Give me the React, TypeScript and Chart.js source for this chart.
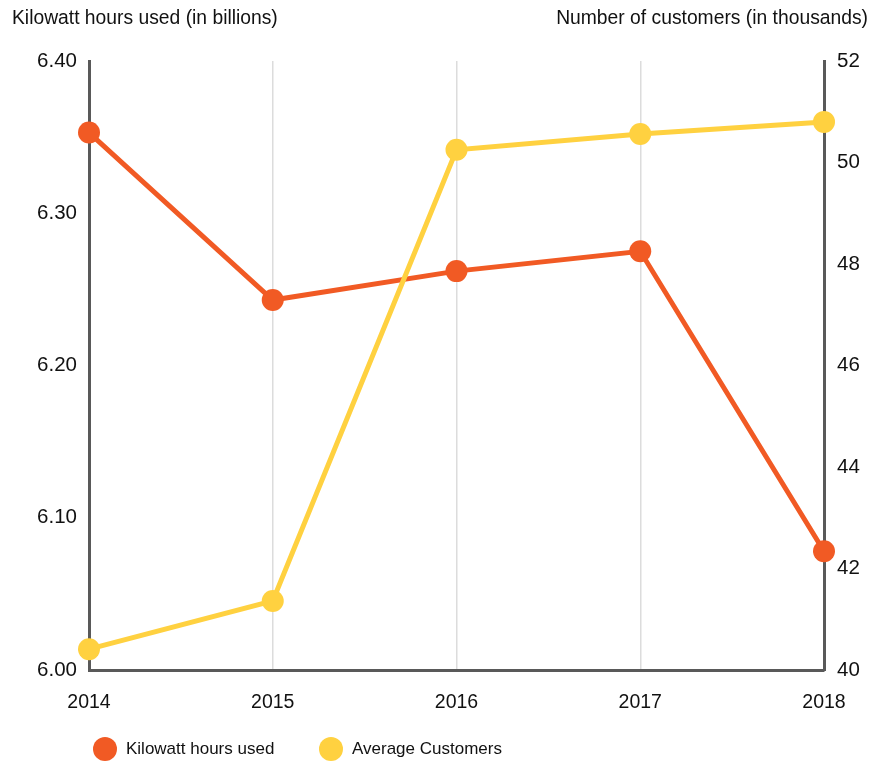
import React, { useEffect, useRef } from "react";
import { Chart, registerables } from "chart.js";

Chart.register(...registerables);

const years = ["2014", "2015", "2016", "2017", "2018"];
const kilowattHours = [6.353, 6.243, 6.262, 6.275, 6.078];
const avgCustomers = [40.41, 41.36, 50.25, 50.56, 50.8];
const leftTicks = [6.0, 6.1, 6.2, 6.3, 6.4];
const rightTicks = [40, 42, 44, 46, 48, 50, 52];

const ORANGE = "#F15A24";
const YELLOW = "#FFD140";
const AXIS = "#595959";
const GRID = "#dcdcdc";
const FONT = "'Liberation Sans', Arial, sans-serif";

export default function App() {
  const ref = useRef<HTMLCanvasElement | null>(null);

  useEffect(() => {
    if (!ref.current) return;
    const chart = new Chart(ref.current, {
      type: "line",
      data: {
        labels: years,
        datasets: [
          {
            label: "Kilowatt hours used",
            data: kilowattHours,
            borderColor: ORANGE,
            backgroundColor: ORANGE,
            pointBackgroundColor: ORANGE,
            pointBorderColor: ORANGE,
            borderWidth: 5,
            pointRadius: 11,
            pointBorderWidth: 0,
            yAxisID: "y",
            order: 1,
            tension: 0,
          },
          {
            label: "Average Customers",
            data: avgCustomers,
            borderColor: YELLOW,
            backgroundColor: YELLOW,
            pointBackgroundColor: YELLOW,
            pointBorderColor: YELLOW,
            borderWidth: 5,
            pointRadius: 11,
            pointBorderWidth: 0,
            yAxisID: "y1",
            order: 0,
            tension: 0,
          },
        ],
      },
      options: {
        responsive: false,
        animation: false,
        layout: { padding: { top: 61, left: 0, right: 0, bottom: 0 } },
        plugins: {
          legend: { display: false },
          tooltip: { enabled: false },
        },
        scales: {
          x: {
            offset: false,
            grid: {
              display: true,
              color: (ctx: any) =>
                ctx.index === 0 || ctx.index === years.length - 1 ? "rgba(0,0,0,0)" : GRID,
              lineWidth: 1.5,
              drawTicks: false,
            },
            border: { display: true, color: AXIS, width: 3 },
            ticks: {
              color: "#111",
              font: { family: FONT, size: 19.5 },
              padding: 21,
              maxRotation: 0,
            },
            afterFit: (s: any) => {
              s.height = 91;
            },
          },
          y: {
            position: "left",
            min: 6.0,
            max: 6.4,
            afterBuildTicks: (s: any) => {
              s.ticks = leftTicks.map((v) => ({ value: v }));
            },
            grid: { display: false, drawTicks: false },
            border: { display: true, color: AXIS, width: 3 },
            ticks: {
              color: "#111",
              font: { family: FONT, size: 20.5 },
              padding: 12,
              callback: (v: any) => Number(v).toFixed(2),
            },
            afterFit: (s: any) => {
              s.width = 89;
            },
          },
          y1: {
            position: "right",
            min: 40,
            max: 52,
            afterBuildTicks: (s: any) => {
              s.ticks = rightTicks.map((v) => ({ value: v }));
            },
            grid: { display: false, drawTicks: false },
            border: { display: true, color: AXIS, width: 3 },
            ticks: {
              color: "#111",
              font: { family: FONT, size: 20.5 },
              padding: 13,
              callback: (v: any) => String(v),
            },
            afterFit: (s: any) => {
              s.width = 46;
            },
          },
        },
      },
    });
    return () => chart.destroy();
  }, []);

  const legendItem = (color: string, text: string, left: number) => (
    <div
      style={{
        position: "absolute",
        left,
        top: 737,
        display: "flex",
        alignItems: "center",
        height: 24,
      }}
    >
      <span
        style={{
          width: 24,
          height: 24,
          borderRadius: "50%",
          background: color,
          display: "inline-block",
          marginRight: 9,
        }}
      />
      <span style={{ fontFamily: FONT, fontSize: 17, color: "#111" }}>{text}</span>
    </div>
  );

  return (
    <div
      style={{
        position: "absolute",
        left: 0,
        top: 0,
        width: 870,
        height: 761,
        overflow: "hidden",
        background: "#fff",
      }}
    >
      <canvas ref={ref} width={870} height={761} style={{ position: "absolute", left: 0, top: 0 }} />
      <div
        style={{
          position: "absolute",
          left: 12,
          top: 7,
          fontFamily: FONT,
          fontSize: 19.3,
          color: "#111",
          whiteSpace: "nowrap",
        }}
      >
        Kilowatt hours used (in billions)
      </div>
      <div
        style={{
          position: "absolute",
          right: 2,
          top: 7,
          fontFamily: FONT,
          fontSize: 19.3,
          color: "#111",
          whiteSpace: "nowrap",
        }}
      >
        Number of customers (in thousands)
      </div>
      {legendItem(ORANGE, "Kilowatt hours used", 93)}
      {legendItem(YELLOW, "Average Customers", 319)}
    </div>
  );
}
